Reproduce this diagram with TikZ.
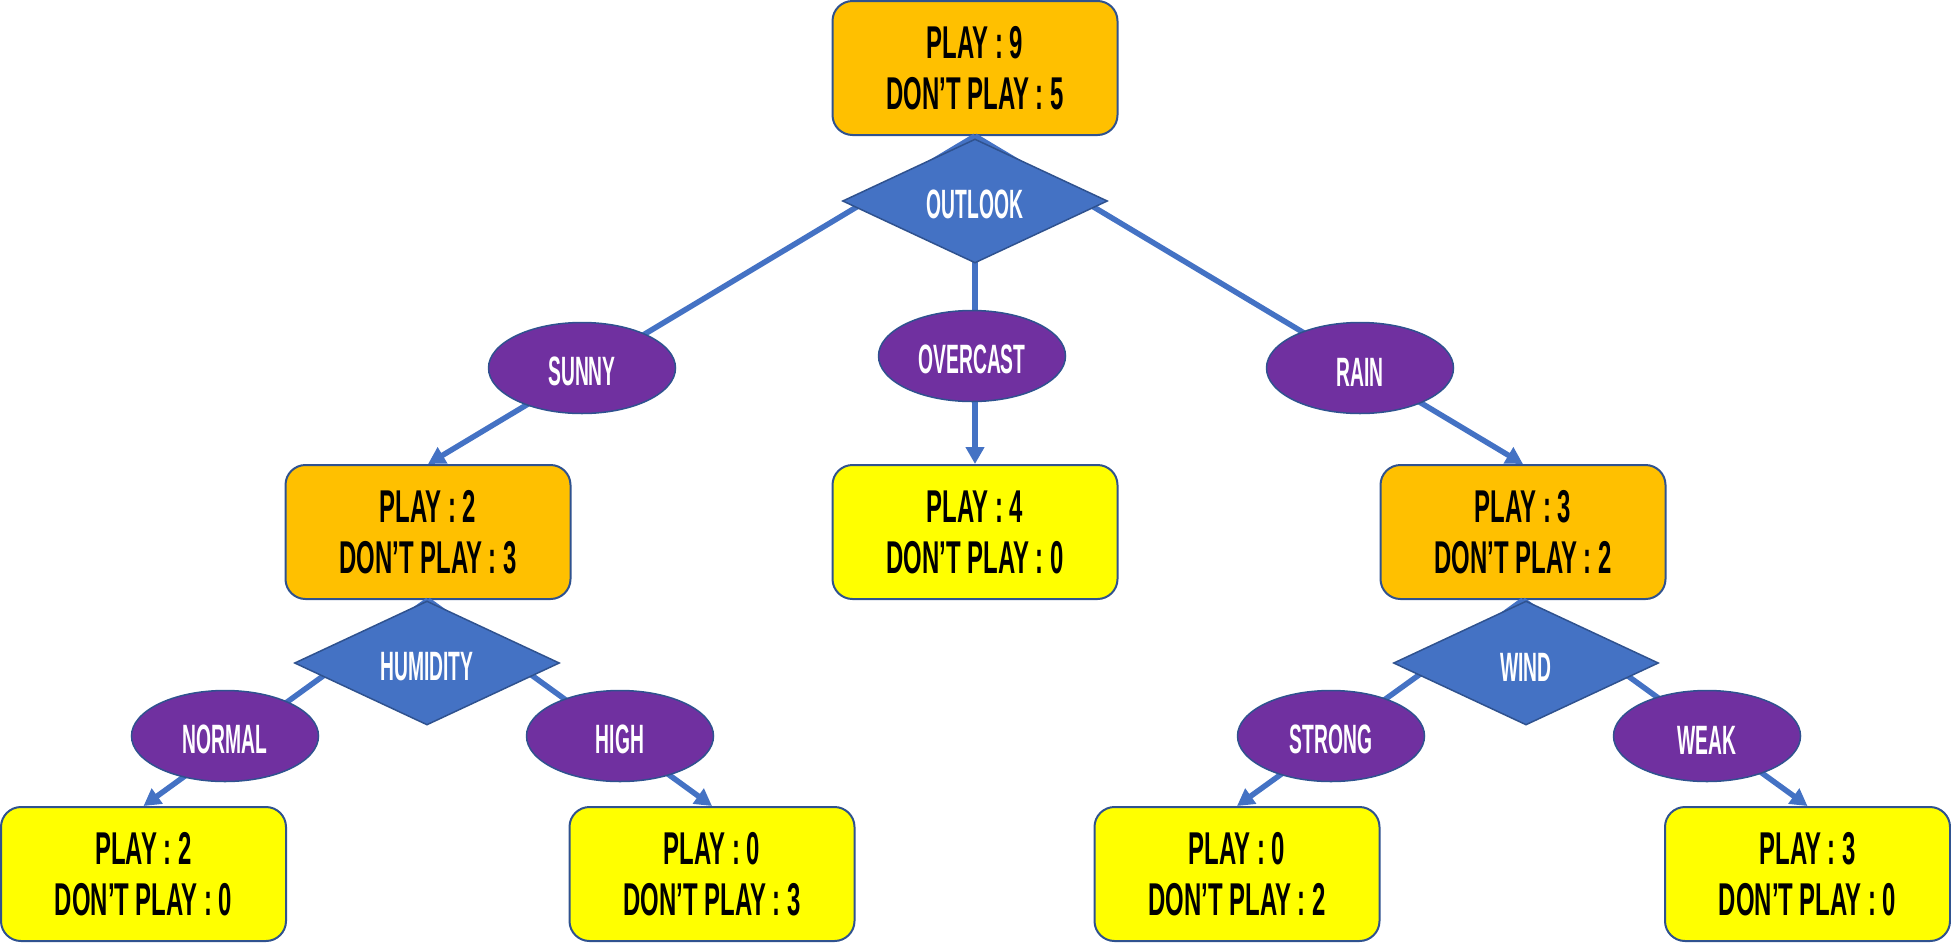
\documentclass[tikz,border=0pt]{standalone}
\usepackage{fontspec}
\usepackage{xcolor}
\usepackage{tikz}
\usetikzlibrary{arrows.meta, positioning, shapes.geometric}

\newfontfamily\tagfont{Liberation Sans}[FakeStretch=0.52]
\newfontfamily\markfont{Liberation Sans}[FakeStretch=0.47]
\newcommand{\countfont}{\tagfont\bfseries\fontsize{46}{51}\selectfont}
\newcommand{\labelfont}{\markfont\bfseries\fontsize{41}{44}\selectfont}

\definecolor{rimblue}{HTML}{2F528F}
\definecolor{linkblue}{HTML}{4472C4}
\definecolor{splitblue}{HTML}{4472C4}
\definecolor{branchpurple}{HTML}{7030A0}
\definecolor{mixorange}{HTML}{FFC000}
\definecolor{pureyellow}{HTML}{FFFF00}

\begin{document}
\begin{tikzpicture}[
      x=1pt, y=-1pt,
      box/.style={draw=rimblue, line width=2pt, rounded corners=20pt, minimum width=285pt,
        minimum height=134pt, inner sep=0pt, align=center, font=\countfont,
        execute at begin node={\rule{0pt}{42pt}}},
      mixed/.style={box, fill=mixorange},
      pure/.style={box, fill=pureyellow},
      split/.style={diamond, aspect=2.1, draw=rimblue, line width=1.5pt, fill=splitblue,
        minimum width=265pt, minimum height=124pt, inner sep=0pt, text=white, font=\labelfont,
        execute at begin node={\rule{0pt}{36pt}}},
      branch/.style={ellipse, draw=rimblue, line width=1.5pt, fill=branchpurple,
        minimum width=187pt, minimum height=91pt, inner sep=0pt, text=white, font=\labelfont,
        execute at begin node={\rule{0pt}{36pt}}},
      arr/.style={draw=linkblue, line width=5.5pt, -{Triangle[length=17pt, width=18pt]}}
    ]
    \useasboundingbox (0,0) rectangle (1951,951);
    % counts
    \node[mixed] (root) at (975,68) {PLAY : 9\\DON’T PLAY : 5};
    \node[mixed] (sunny) at (428,532) {PLAY : 2\\DON’T PLAY : 3};
    \node[pure] (overcast) at (975,532) {PLAY : 4\\DON’T PLAY : 0};
    \node[mixed] (rain) at (1523,532) {PLAY : 3\\DON’T PLAY : 2};
    \node[pure] (normal) at (143.5,874) {PLAY : 2\\DON’T PLAY : 0};
    \node[pure] (high) at (712,874) {PLAY : 0\\DON’T PLAY : 3};
    \node[pure] (strong) at (1237,874) {PLAY : 0\\DON’T PLAY : 2};
    \node[pure] (weak) at (1807.5,874) {PLAY : 3\\DON’T PLAY : 0};
    % links
    \draw[arr] (root.south) -- (sunny.north);
    \draw[arr] (root.south) -- (overcast.north);
    \draw[arr] (root.south) -- (rain.north);
    \draw[arr] (sunny.south) -- (normal.north);
    \draw[arr] (sunny.south) -- (high.north);
    \draw[arr] (rain.south) -- (strong.north);
    \draw[arr] (rain.south) -- (weak.north);
    % tests and values
    \node[split] (outlook) at (975,201) {OUTLOOK};
    \node[split] (humidity) at (427,663) {HUMIDITY};
    \node[split] (wind) at (1526,663) {WIND};
    \node[branch] (vsunny) at (582,368) {SUNNY};
    \node[branch] (vovercast) at (972,356) {OVERCAST};
    \node[branch] (vrain) at (1360,368) {RAIN};
    \node[branch] (vnormal) at (225,736) {NORMAL};
    \node[branch] (vhigh) at (620,736) {HIGH};
    \node[branch] (vstrong) at (1331,736) {STRONG};
    \node[branch] (vweak) at (1707,736) {WEAK};
  \end{tikzpicture}
\end{document}
